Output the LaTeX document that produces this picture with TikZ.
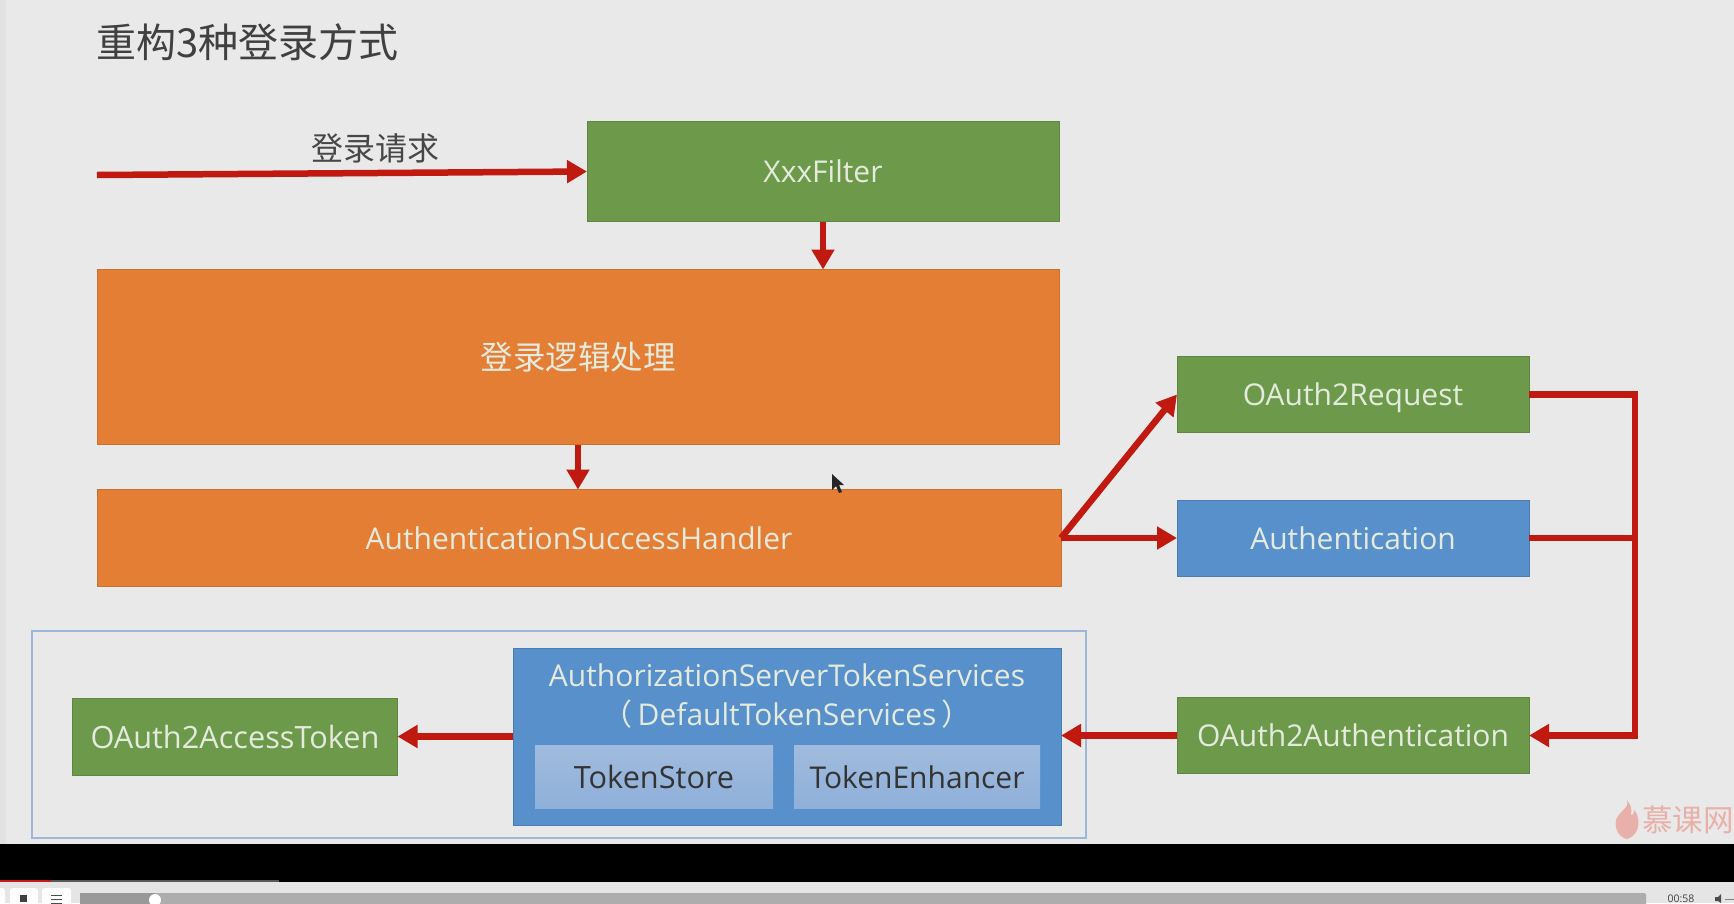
\documentclass[tikz,border=0pt]{standalone}
\usepackage{fontspec}
\setmainfont{Open Sans}
\newfontfamily\cjk{Noto Sans CJK SC}
\usetikzlibrary{arrows.meta,calc}
\definecolor{bgc}{HTML}{E9E9E9}
\definecolor{grn}{HTML}{6C9A4A}
\definecolor{grnd}{HTML}{5E8642}
\definecolor{org}{HTML}{E47E35}
\definecolor{orgd}{HTML}{C9722F}
\definecolor{blu}{HTML}{5790CB}
\definecolor{blud}{HTML}{4A7DB3}
\definecolor{arr}{HTML}{C01A10}
\definecolor{txtl}{HTML}{E4EADD}
\definecolor{frame}{HTML}{9DB8D6}
\definecolor{tokt}{HTML}{A0BBDD}
\definecolor{tokb}{HTML}{8FB0DA}
\definecolor{wmk}{HTML}{E8B0A8}
\tikzset{
  x=1pt,y=-1pt,
  boxs/.style={rectangle,inner sep=0pt,outer sep=0pt,align=center,font=\fontsize{30}{36}\selectfont,text=txtl},
  gbox/.style={boxs,fill=grn,draw=grnd,line width=1pt},
  obox/.style={boxs,fill=org,draw=orgd,line width=1pt},
  bbox/.style={boxs,fill=blu,draw=blud,line width=1pt},
  tbox/.style={boxs,top color=tokt,bottom color=tokb,text=black!80},
  link/.style={draw=arr,line width=6.5pt,-{Triangle[length=20pt,width=22pt]}},
  plain/.style={draw=arr,line width=6.5pt},
  lbl/.style={inner sep=0pt,text=black!72},
}
\begin{document}
\begin{tikzpicture}
\useasboundingbox (0,0) rectangle (1734,903);
\clip (0,0) rectangle (1734,903);
\fill[bgc] (0,0) rectangle (1734,844);
\fill[black!3!bgc] (0,0) rectangle (6,844);

\node[lbl,anchor=center,font=\cjk\fontsize{40}{40}\selectfont,text=black!75] (title) at (247.5,42) {重构3种登录方式};

\node[gbox,minimum width=472pt,minimum height=100pt] (xxx) at (823,171.5) {XxxFilter};
\node[obox,minimum width=962pt,minimum height=175pt,font=\cjk\fontsize{32.5}{36}\selectfont] (login) at (578,357) {登录逻辑处理};
\node[obox,minimum width=964pt,minimum height=97pt] (ash) at (579,538) {AuthenticationSuccessHandler};
\node[gbox,minimum width=352pt,minimum height=76pt,text depth=0pt] (req) at (1353,394.5) {OAuth2Request};
\node[bbox,minimum width=352pt,minimum height=76pt] (authn) at (1353,538) {Authentication};
\node[gbox,minimum width=352pt,minimum height=76pt] (oauth) at (1353,735.5) {OAuth2Authentication};

\node[draw=frame,line width=2pt,fill=none,minimum width=1054pt,minimum height=207pt,inner sep=0pt,outer sep=0pt] (frame) at (559,734) {};
\node[gbox,minimum width=325pt,minimum height=77pt,font=\fontsize{30.7}{36}\selectfont] (token) at (235,736.5) {OAuth2AccessToken};
\node[bbox,minimum width=548pt,minimum height=177pt] (serv) at (787,736.5) {};
\node[lbl,text=txtl,font=\fontsize{30}{39}\selectfont,align=center] (servt) at (787,696) {AuthorizationServerTokenServices\\{\cjk（}\hspace{5pt}DefaultTokenServices\hspace{5pt}{\cjk ）}};
\node[tbox,minimum width=238pt,minimum height=63pt,font=\fontsize{30.7}{36}\selectfont] (store) at (654,777) {TokenStore};
\node[tbox,minimum width=246pt,minimum height=63pt] (enh) at (917,777) {TokenEnhancer};

\coordinate (start) at (97,175);
\coordinate (jn) at (1635,538);
\node[lbl,font=\cjk\fontsize{32}{32}\selectfont] (req0) at (375,148) {登录请求};

\draw[link] (start) -- (xxx.west);
\draw[link] (xxx.south) -- (xxx.south |- login.north);
\draw[link] (login.south) -- (login.south |- ash.north);
\draw[link] (ash.east) -- (req.west);
\draw[link] (ash.east) -- (authn.west);
\draw[plain] (authn.east) -- (jn);
\draw[link] (req.east) -- (req.east -| jn) -- (oauth.east -| jn) -- (oauth.east);
\draw[link] (oauth.west) -- (serv.east |- oauth.west);
\draw[link] (serv.west |- token.east) -- (token.east);

% mouse cursor
\fill[black!85] (832,474) -- (832,490) -- (836,486) -- (839,493) -- (842,492) -- (839,485) -- (844,485) -- cycle;

% watermark
\fill[wmk] (1627,800) .. controls (1630,808) and (1618,812) .. (1616,820) .. controls (1614,831) and (1621,838) .. (1627,839) .. controls (1635,837) and (1640,828) .. (1638,818) .. controls (1637,813) and (1635,811) .. (1634,810) .. controls (1634,814) and (1632,816) .. (1631,815) .. controls (1632,810) and (1631,805) .. (1627,800) -- cycle;
\node[lbl,anchor=west,text=wmk,font=\cjk\fontsize{30.5}{31}\selectfont] (wm) at (1642,820) {慕课网};

% player
\fill[black] (0,844) rectangle (1734,882);
\fill[black!65] (0,880) rectangle (279,882);
\fill[red!75!black!90] (0,880) rectangle (51,882);
\fill[black!10] (0,882) rectangle (1734,903);
\fill[white,rounded corners=3pt] (-6,888) rectangle (5,910);
\fill[white,rounded corners=3pt] (10,888) rectangle (38,910);
\fill[white,rounded corners=3pt] (42,888) rectangle (71,910);
\fill[black!75] (20,895) rectangle (27,902);
\draw[black!70,line width=1pt] (51,895.5) -- (62,895.5) (51,899.5) -- (62,899.5) (51,903) -- (62,903);
\fill[black!32,rounded corners=2pt] (80,893) rectangle (1646,910);
\fill[black!40] (80,893) rectangle (155,910);
\fill[white] (155,900) circle (6pt);
\node[lbl,text=black!75,font=\fontsize{10.5}{11}\selectfont] (time) at (1681,899) {00:58};
\fill[black!70] (1715,897) -- (1718,897) -- (1721,894) -- (1721,903) -- (1718,901) -- (1715,901) -- cycle;
\draw[black!50,line width=1pt] (1725,899) -- (1734,899);
\end{tikzpicture}
\end{document}
